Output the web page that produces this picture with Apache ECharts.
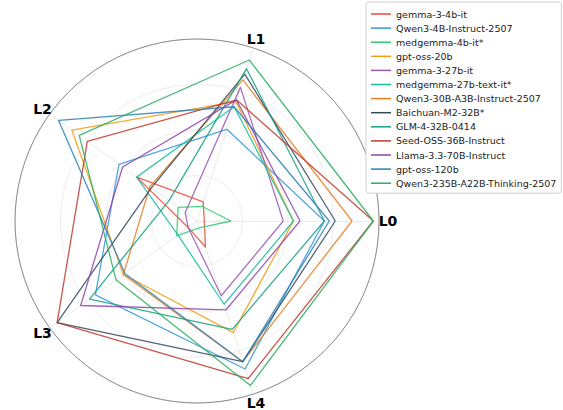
<!DOCTYPE html>
<html><head><meta charset="utf-8">
<script src="https://cdn.jsdelivr.net/npm/echarts@6/dist/echarts.min.js"></script>
<style>html,body{margin:0;padding:0;background:#fff}#c{width:563px;height:410px}</style>
</head><body><div id="c"></div>
<script>
// Axes (levels)
const axes = ['L0', 'L1', 'L2', 'L3', 'L4'];
// Model names (legend order)
const models = ['gemma-3-4b-it', 'Qwen3-4B-Instruct-2507', 'medgemma-4b-it*', 'gpt-oss-20b',
  'gemma-3-27b-it', 'medgemma-27b-text-it*', 'Qwen3-30B-A3B-Instruct-2507', 'Baichuan-M2-32B*',
  'GLM-4-32B-0414', 'Seed-OSS-36B-Instruct', 'Llama-3.3-70B-Instruct', 'gpt-oss-120b',
  'Qwen3-235B-A22B-Thinking-2507'];
// Values per model: [L0, L1, L2, L3, L4]
const gemma3_4b   = [0.04, 0.11, 0.41, 0.06, 0.15];
const qwen3_4b    = [0.70, 0.53, 0.53, 0.69, 0.855];
const medgemma4b  = [0.187, 0.085, 0.128, 0.138, 0.04];
const gptoss20b   = [0.53, 0.69, 0.85, 0.50, 0.645];
const gemma3_27b  = [0.474, 0.772, 0.08, 0.06, 0.432];
const medgemma27b = [0.53, 0.66, 0.41, 0.13, 0.481];
const qwen3_30b   = [0.852, 0.815, 0.32, 0.50, 0.813];
const baichuan    = [0.76, 0.849, 0.31, 0.95, 0.813];
const glm4_32b    = [0.70, 0.88, 0.19, 0.73, 0.626];
const seedoss36b  = [0.969, 0.70, 0.745, 0.95, 0.91];
const llama70b    = [0.566, 0.70, 0.505, 0.79, 0.514];
const gptoss120b  = [0.727, 0.66, 0.94, 0.49, 0.813];
const qwen3_235b  = [0.969, 0.93, 0.80, 0.55, 0.95];
const values = [gemma3_4b, qwen3_4b, medgemma4b, gptoss20b, gemma3_27b, medgemma27b,
  qwen3_30b, baichuan, glm4_32b, seedoss36b, llama70b, gptoss120b, qwen3_235b];
const colors = ['#E74C3C', '#3498DB', '#2ECC71', '#F39C12', '#9B59B6', '#1ABC9C',
  '#E67E22', '#34495E', '#16A085', '#C0392B', '#8E44AD', '#2980B9', '#27AE60'];

const chart = echarts.init(document.getElementById('c'), null, {renderer: 'svg'});
const font = 'DejaVu Sans';
const indicator = axes.map(n => ({name: n, min: 0, max: 1}));
chart.setOption({
  animation: false,
  color: colors,
  textStyle: {fontFamily: font},
  legend: {
    orient: 'vertical', left: 366, top: 2,
    padding: [7, 5, 5, 5],
    itemWidth: 20, itemHeight: 1.5, itemGap: 4.1, itemTextGap: 7,
    icon: 'rect',
    backgroundColor: '#fff', borderColor: '#d0d0d0', borderWidth: 1, borderRadius: 3,
    textStyle: {fontFamily: font, fontSize: 9.5, color: '#222'},
    data: models
  },
  radar: [{
    center: [197, 221], radius: 182, startAngle: 0, shape: 'circle', splitNumber: 4,
    indicator: indicator,
    axisName: {color: '#000', fontSize: 14, fontWeight: 'bold', fontFamily: font,
      align: 'center', verticalAlign: 'middle'},
    nameGap: 9,
    axisLine: {lineStyle: {color: '#e6e6e6', width: 0.8}},
    splitLine: {lineStyle: {color: '#e9e9e9', width: 0.8}},
    splitArea: {show: false},
    axisTick: {show: false}, axisLabel: {show: false}
  }, {
    center: [197, 221], radius: 182, startAngle: 0, shape: 'circle', splitNumber: 1,
    indicator: indicator,
    axisName: {show: false},
    axisLine: {show: false},
    splitLine: {lineStyle: {color: '#8a8a8a', width: 1}},
    splitArea: {show: false},
    axisTick: {show: false}, axisLabel: {show: false}
  }],
  series: models.map((m, i) => ({
    type: 'radar', name: m, radarIndex: 0, symbol: 'none',
    lineStyle: {width: 1.3, opacity: 0.85, color: colors[i]},
    itemStyle: {color: colors[i]},
    data: [{value: values[i], name: m}]
  }))
});
</script></body></html>
